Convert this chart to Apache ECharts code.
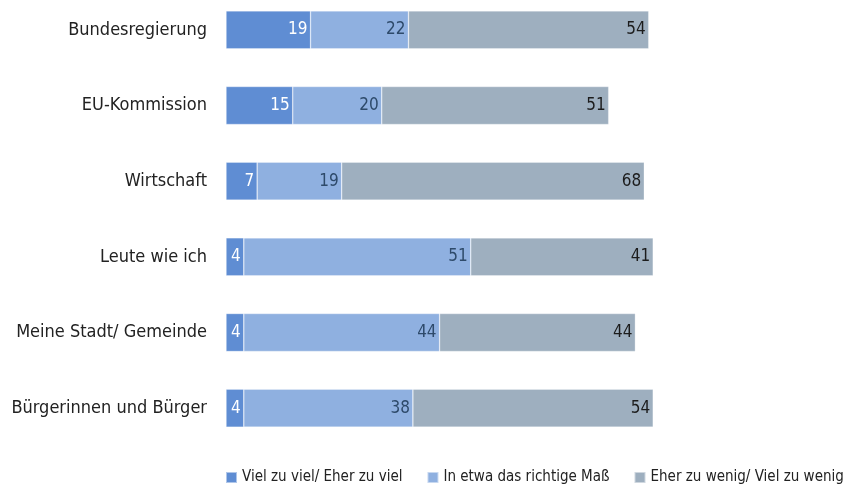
<!DOCTYPE html>
<html>
<head>
<meta charset="utf-8">
<script src="https://cdn.jsdelivr.net/npm/echarts@6/dist/echarts.min.js"></script>
<style>
  html, body { margin: 0; padding: 0; background: #fff; }
  #chart { width: 848px; height: 484px; }
</style>
</head>
<body>
<div id="chart"></div>
<script>
// Kategorien von oben nach unten
const categories = [
  'Bundesregierung',
  'EU-Kommission',
  'Wirtschaft',
  'Leute wie ich',
  'Meine Stadt/ Gemeinde',
  'Bürgerinnen und Bürger'
];
const seriesNames = [
  'Viel zu viel/ Eher zu viel',
  'In etwa das richtige Maß',
  'Eher zu wenig/ Viel zu wenig'
];
const zuViel = [19, 15, 7, 4, 4, 4];
const richtig = [22, 20, 19, 51, 44, 38];
const zuWenig = [54, 51, 68, 41, 44, 54];

const colors = ['#5f8dd3', '#8fb0e0', '#9eafbf'];
const labelColors = ['#ffffff', '#2e4a6a', '#1c1c1c'];
const FONT = '"DejaVu Sans Condensed", "Roboto", sans-serif';

const chart = echarts.init(document.getElementById('chart'));

const values = [zuViel, richtig, zuWenig];
const series = seriesNames.map((name, i) => ({
  name: name,
  type: 'bar',
  stack: 'total',
  barWidth: 38,
  data: values[i],
  itemStyle: { color: colors[i], borderColor: 'rgba(255,255,255,0.5)', borderWidth: 0.6 },
  label: {
    show: true,
    position: 'insideRight',
    distance: 3,
    color: labelColors[i],
    fontFamily: FONT,
    fontSize: 17
  }
}));

chart.setOption({
  animation: false,
  color: colors,
  legend: {
    top: 465,
    left: 220,
    width: 640,
    itemWidth: 11,
    itemHeight: 11,
    itemGap: 24,
    icon: 'rect',
    textStyle: { fontFamily: FONT, fontSize: 15, color: '#222' },
    data: seriesNames
  },
  grid: { left: 226, right: 177, top: -8, bottom: 38, containLabel: false, outerBoundsMode: 'none' },
  xAxis: {
    type: 'value',
    min: 0,
    max: 100,
    show: false
  },
  yAxis: {
    type: 'category',
    inverse: true,
    data: categories,
    axisLine: { show: false },
    axisTick: { show: false },
    axisLabel: {
      margin: 19,
      fontFamily: FONT,
      fontSize: 18,
      color: '#222'
    }
  },
  series: series
});
</script>
</body>
</html>
